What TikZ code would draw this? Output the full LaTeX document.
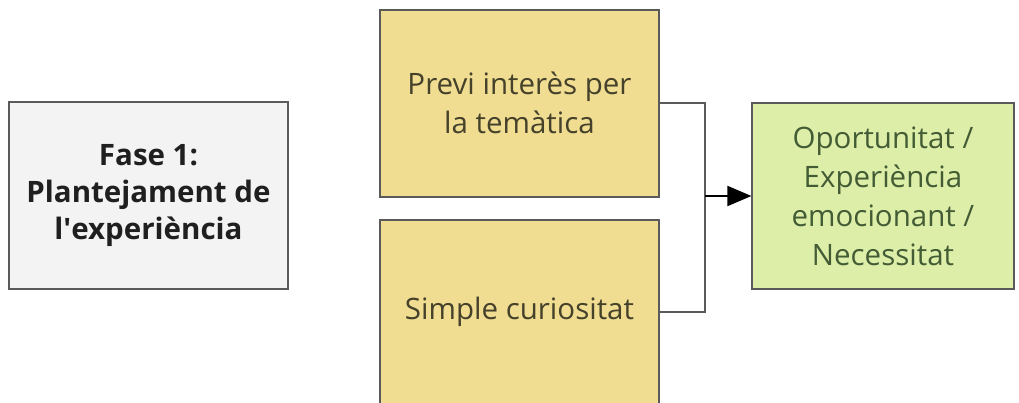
\documentclass[tikz,border=0pt]{standalone}
\usepackage{fontspec}
\setmainfont{Open Sans}
\usetikzlibrary{arrows.meta}
\definecolor{grayfill}{HTML}{F3F3F3}
\definecolor{yellowfill}{HTML}{F0DD92}
\definecolor{greenfill}{HTML}{DDEEA8}
\definecolor{boxline}{HTML}{5A5A5A}
\definecolor{yellowtext}{HTML}{45412A}
\definecolor{greentext}{HTML}{435C35}
\tikzset{
  box/.style={draw=boxline, line width=1.2pt, inner sep=0pt, align=center},
  conn/.style={draw=boxline, line width=1.4pt},
  txt/.style={font=\fontsize{29.5}{39}\selectfont, align=center},
}
\begin{document}
\begin{tikzpicture}[x=1pt,y=1pt]
\useasboundingbox (0,0) rectangle (1019,403);
\clip (0,0) rectangle (1019,403);
% left box
\node[box, fill=grayfill, minimum width=279pt, minimum height=187pt, font=\fontsize{29.5}{37}\selectfont\bfseries, text=black!88] (fase) at (148.5,207.5) {Fase 1:\\Plantejament de\\l\textquotesingle experiència};
% yellow boxes
\node[box, fill=yellowfill, minimum width=279pt, minimum height=187pt] (previ) at (519.5,299.5) {};
\node[txt, text=yellowtext] (previt) at (519.5,300) {Previ interès per\\la temàtica};
\node[box, fill=yellowfill, minimum width=279pt, minimum height=200pt] (simple) at (519.5,83) {};
\node[txt, text=yellowtext] (simplet) at (519.5,91) {Simple curiositat};
% green box
\node[box, fill=greenfill, minimum width=262pt, minimum height=186pt, txt, text=greentext] (oport) at (883,207) {Oportunitat /\\Experiència\\emocionant /\\Necessitat};
% connectors
\coordinate (j1) at (705,300);
\coordinate (j2) at (705,91);
\coordinate (jm) at (705,207);
\draw[conn] (previ.east |- j1) -- (j1) -- (j2) -- (simple.east |- j2);
\draw[conn, draw=black, line width=2pt, -{Triangle[length=24pt,width=20pt]}] (jm) -- (oport.west |- jm);
\end{tikzpicture}
\end{document}
